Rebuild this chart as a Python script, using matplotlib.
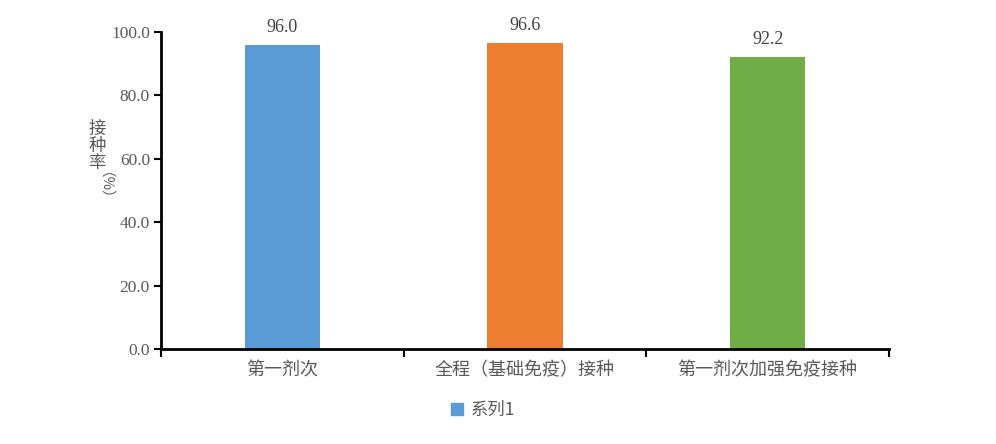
import matplotlib.pyplot as plt
from matplotlib.patches import Patch

# data
categories = ["第一剂次", "全程（基础免疫）接种", "第一剂次加强免疫接种"]
rates = [96.0, 96.6, 92.2]
bar_colors = ["#5B9BD5", "#ED7D31", "#70AD47"]
yticks = [0, 20, 40, 60, 80, 100]

cjk = ["Noto Sans CJK SC", "DejaVu Sans"]
serif = "Liberation Serif"
gray = "#595959"

fig = plt.figure(figsize=(9.96, 4.44), dpi=100)
ax = fig.add_axes([161 / 996, 1 - 349 / 444, 728 / 996, 317 / 444])

x = range(len(categories))
bars = ax.bar(x, rates, width=0.31, color=bar_colors)

for b, v in zip(bars, rates):
    ax.text(b.get_x() + b.get_width() / 2, v + 2.8, f"{v:.1f}", ha="center", va="bottom",
            family=serif, fontsize=13, color="#404040")

ax.set_xlim(-0.5, len(categories) - 0.5)
ax.set_ylim(0, 100)
ax.set_yticks(yticks)
ax.set_yticklabels([f"{t:.1f}" for t in yticks], family=serif, fontsize=12.5, color=gray)

# categories labelled at centres, tick marks at boundaries
ax.set_xticks([i - 0.5 for i in range(len(categories) + 1)])
ax.set_xticklabels([])
ax.set_xticks(list(x), minor=True)
ax.set_xticklabels(categories, minor=True, family=cjk, fontsize=13, color=gray)
ax.tick_params(axis="x", which="minor", length=0, pad=9)
ax.tick_params(axis="x", which="major", length=6, width=1.5, direction="out")
ax.tick_params(axis="y", length=5, width=1.5, direction="out", pad=3)

for s in ["top", "right"]:
    ax.spines[s].set_visible(False)
for s in ["left", "bottom"]:
    ax.spines[s].set_linewidth(2)
    ax.spines[s].set_color("black")

# y label: stacked characters, bracket part rotated
fig.text(97 / 996, 1 - 146 / 444, "接\n种\n率", ha="center", va="center", family=cjk,
         fontsize=12.5, color=gray, linespacing=0.9)
fig.text(97 / 996, 1 - 193 / 444, "（%）", ha="center", va="center", family=cjk,
         fontsize=10.5, color=gray, rotation=-90)

handles = [Patch(color=bar_colors[0], label="系列1")]
fig.legend(handles=handles, loc="center", bbox_to_anchor=(483 / 996, 1 - 410 / 444),
           frameon=False, prop={"family": cjk, "size": 12.5}, handlelength=0.7,
           handleheight=0.7, handletextpad=0.4, labelcolor=gray)

fig.savefig("out.png", dpi=100)
